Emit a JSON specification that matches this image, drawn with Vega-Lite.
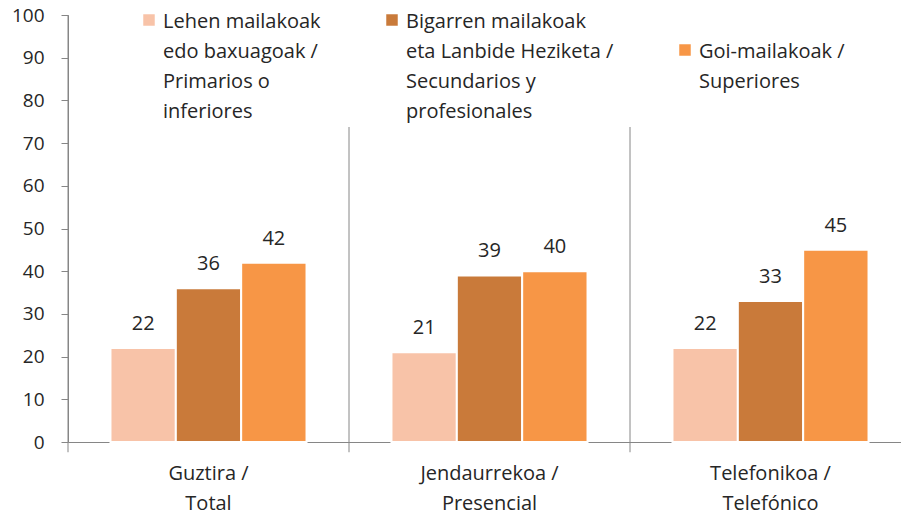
{
  "$schema": "https://vega.github.io/schema/vega-lite/v6.json",
  "autosize": "none",
  "width": 833,
  "height": 427,
  "padding": {"left": 68, "top": 15, "right": 0, "bottom": 76},
  "config": {
    "font": "Open Sans",
    "view": {"stroke": null},
    "style": {"guide-label": {"lineHeight": 30, "dy": -8}}
  },
  "datasets": {
    "bars": [
      {"grupo": "Guztira / Total", "nivel": "Lehen mailakoak edo baxuagoak / Primarios o inferiores", "valor": 22},
      {"grupo": "Guztira / Total", "nivel": "Bigarren mailakoak eta Lanbide Heziketa / Secundarios y profesionales", "valor": 36},
      {"grupo": "Guztira / Total", "nivel": "Goi-mailakoak / Superiores", "valor": 42},
      {"grupo": "Jendaurrekoa / Presencial", "nivel": "Lehen mailakoak edo baxuagoak / Primarios o inferiores", "valor": 21},
      {"grupo": "Jendaurrekoa / Presencial", "nivel": "Bigarren mailakoak eta Lanbide Heziketa / Secundarios y profesionales", "valor": 39},
      {"grupo": "Jendaurrekoa / Presencial", "nivel": "Goi-mailakoak / Superiores", "valor": 40},
      {"grupo": "Telefonikoa / Telefónico", "nivel": "Lehen mailakoak edo baxuagoak / Primarios o inferiores", "valor": 22},
      {"grupo": "Telefonikoa / Telefónico", "nivel": "Bigarren mailakoak eta Lanbide Heziketa / Secundarios y profesionales", "valor": 33},
      {"grupo": "Telefonikoa / Telefónico", "nivel": "Goi-mailakoak / Superiores", "valor": 45}
    ],
    "grupos": [
      {"grupo": "Guztira / Total"},
      {"grupo": "Jendaurrekoa / Presencial"},
      {"grupo": "Telefonikoa / Telefónico"}
    ]
  },
  "layer": [
    {
      "data": {"name": "grupos"},
      "mark": {"type": "rule", "color": "#868686", "strokeWidth": 1},
      "encoding": {
        "x": {"field": "grupo", "type": "nominal", "bandPosition": 0},
        "y": {"datum": -2.4},
        "y2": {"datum": 100}
      }
    },
    {
      "data": {"name": "bars"},
      "mark": {"type": "bar", "stroke": "white", "strokeWidth": 2},
      "encoding": {
        "x": {
          "field": "grupo", "type": "nominal", "sort": null,
          "scale": {"range": [0, 843], "paddingInner": 0, "paddingOuter": 0},
          "axis": {
            "title": null, "labelAngle": 0, "labelAlign": "center", "ticks": false, "domainColor": "#868686",
            "labelFontSize": 20, "labelColor": "#262626", "labelPadding": 39,
            "labelLineHeight": 30,
            "labelExpr": "split(replace(datum.label, '/ ', '/|'), '|')"
          }
        },
        "xOffset": {
          "field": "nivel", "type": "nominal", "sort": null,
          "scale": {"paddingInner": 0, "paddingOuter": 0.65}
        },
        "y": {
          "field": "valor", "type": "quantitative",
          "scale": {"domain": [0, 100], "nice": false},
          "axis": {
            "title": null, "values": [0, 10, 20, 30, 40, 50, 60, 70, 80, 90, 100],
            "grid": false, "domainColor": "#868686", "tickColor": "#868686",
            "tickSize": 7, "labelFontSize": 19, "labelColor": "#262626", "labelPadding": 17,
            "labelOffset": 8
          }
        },
        "color": {
          "field": "nivel", "type": "nominal", "sort": null,
          "scale": {"range": ["#F8C3A8", "#C97A3A", "#F79646"]},
          "legend": {
            "title": null, "orient": "none", "legendX": 66, "legendY": -10,
            "direction": "horizontal", "columns": 3, "columnPadding": 61,
            "fillColor": "white", "padding": 5, "zindex": 1,
            "symbolType": "square", "symbolSize": 132, "symbolStrokeWidth": 0,
            "labelFontSize": 20, "labelColor": "#262626", "labelLimit": 400,
            "labelBaseline": "top", "labelOffset": 4,
            "labelExpr": "{'Lehen mailakoak edo baxuagoak / Primarios o inferiores': ['Lehen mailakoak', 'edo baxuagoak /', 'Primarios o', 'inferiores'], 'Bigarren mailakoak eta Lanbide Heziketa / Secundarios y profesionales': ['Bigarren mailakoak', 'eta Lanbide Heziketa /', 'Secundarios y', 'profesionales'], 'Goi-mailakoak / Superiores': ['Goi-mailakoak /', 'Superiores']}[datum.label]"
          }
        }
      }
    },
    {
      "data": {"name": "bars"},
      "mark": {"type": "text", "baseline": "alphabetic", "dy": -18, "fontSize": 20, "color": "#262626"},
      "encoding": {
        "x": {"field": "grupo", "type": "nominal", "sort": null},
        "xOffset": {"field": "nivel", "type": "nominal", "sort": null},
        "y": {"field": "valor", "type": "quantitative"},
        "text": {"field": "valor", "type": "quantitative"}
      }
    }
  ]
}
